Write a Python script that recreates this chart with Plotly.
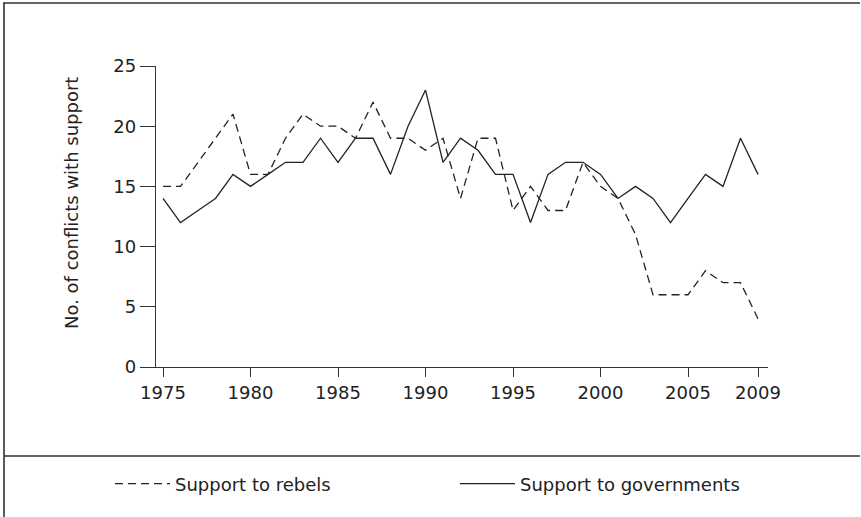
import plotly.graph_objects as go

years = list(range(1975, 2010))
rebels = [15, 15, 17, 19, 21, 16, 16, 19, 21, 20, 20, 19, 22, 19, 19, 18, 19, 14, 19, 19,
          13, 15, 13, 13, 17, 15, 14, 11, 6, 6, 6, 8, 7, 7, 4]
governments = [14, 12, 13, 14, 16, 15, 16, 17, 17, 19, 17, 19, 19, 16, 20, 23, 17, 19, 18, 16,
               16, 12, 16, 17, 17, 16, 14, 15, 14, 12, 14, 16, 15, 19, 16]
x_ticks = [1975, 1980, 1985, 1990, 1995, 2000, 2005, 2009]
y_ticks = [0, 5, 10, 15, 20, 25]

W, H = 861, 517
ML, MR, MT, MB = 156, 93, 66, 150
FONT = "DejaVu Sans"
INK = "#222222"

fig = go.Figure()
fig.add_trace(go.Scatter(x=years, y=rebels, mode="lines", name="Support to rebels",
                         line=dict(color=INK, width=1.3, dash="8px,5px")))
fig.add_trace(go.Scatter(x=years, y=governments, mode="lines", name="Support to governments",
                         line=dict(color=INK, width=1.3)))

pw = W - ML - MR
ph = H - MT - MB
def px_x(p):
    return (p - ML) / pw
def px_y(p):
    return (H - MB - p) / ph

line_style = dict(color="#333333", width=1.6)
fig.add_shape(type="line", xref="paper", yref="paper", x0=px_x(3), x1=px_x(W - 1), y0=px_y(3), y1=px_y(3), line=line_style)
fig.add_shape(type="line", xref="paper", yref="paper", x0=px_x(4), x1=px_x(4), y0=px_y(3), y1=px_y(H), line=line_style)
fig.add_shape(type="line", xref="paper", yref="paper", x0=px_x(4), x1=px_x(W - 1), y0=px_y(456), y1=px_y(456), line=line_style)

fig.add_annotation(text="No. of conflicts with support", xref="paper", yref="paper",
                   x=px_x(71), y=px_y(203), showarrow=False, textangle=-90,
                   xanchor="center", yanchor="middle",
                   font=dict(family=FONT, size=18, color=INK))

fig.update_layout(
    width=W, height=H,
    margin=dict(l=ML, r=MR, t=MT, b=MB, autoexpand=False),
    paper_bgcolor="white", plot_bgcolor="white",
    font=dict(family=FONT, size=18, color=INK),
    showlegend=True,
    legend=dict(orientation="h", x=px_x(110), y=px_y(484), xanchor="left", yanchor="middle",
                font=dict(family=FONT, size=18, color=INK), entrywidth=275, entrywidthmode="pixels",
                itemwidth=55, bgcolor="rgba(0,0,0,0)"),
    xaxis=dict(range=[1974.6, 2009.57], tickvals=x_ticks, ticktext=[str(v) for v in x_ticks],
               showline=True, linecolor="#333333", linewidth=1.3, ticks="outside", ticklen=9,
               tickcolor="#333333", tickwidth=1.3, showgrid=False, zeroline=False, automargin=False,
               tickfont=dict(family=FONT, size=18, color=INK)),
    yaxis=dict(range=[0, 25], tickvals=y_ticks, showline=True, linecolor="#333333", linewidth=1.3,
               ticks="outside", ticklen=15, tickcolor="#333333", tickwidth=1.3, showgrid=False,
               zeroline=False, automargin=False, tickfont=dict(family=FONT, size=18, color=INK)),
)

fig.write_html("out.html", config={"displayModeBar": False},
               post_script="document.body.style.margin='0px';document.body.style.overflow='hidden';")
